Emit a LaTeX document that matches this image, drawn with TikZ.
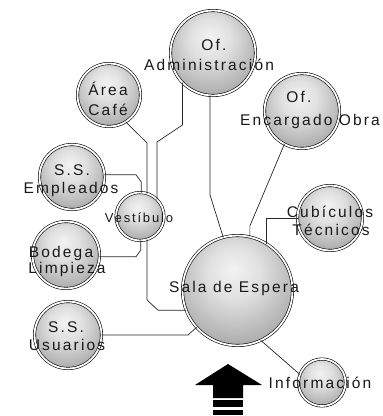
\documentclass[tikz,border=0pt]{standalone}
\usepackage{fontspec}
\setmainfont{Liberation Sans}[LetterSpace=14]
\pgfdeclareradialshading{sphere}{\pgfpoint{-2bp}{10bp}}{color(0bp)=(white!95!black); color(12bp)=(white!88!black); color(30bp)=(white!68!black); color(50bp)=(white!45!black); color(70bp)=(white!40!black)}
\begin{document}
\begin{tikzpicture}[x=1pt,y=-1pt,
  bub/.style={circle, draw=black, line width=0.6pt, double=white, double distance=1.8pt, shading=sphere, inner sep=0pt, outer sep=0pt},
  lbl/.style={font=\fontsize{15.5}{19}\selectfont, anchor=base, inner sep=0pt, text=black!90},
  slbl/.style={lbl, font=\fontsize{13}{16}\selectfont},
  wire/.style={line width=0.7pt, draw=black!85, line join=miter}]
\useasboundingbox (0,0) rectangle (383,416);
% bubbles
\node[bub, minimum size=85pt] (admin) at (213,53) {};
\node[bub, minimum size=63pt] (cafe) at (109,95) {};
\node[bub, minimum size=75pt] (obra) at (302,111) {};
\node[bub, minimum size=65pt] (empl) at (72,177) {};
\node[bub, minimum size=48pt] (vest) at (140,216.5) {};
\node[bub, minimum size=65pt] (cub) at (330,218) {};
\node[bub, minimum size=67pt] (bod) at (66,255) {};
\node[bub, minimum size=110pt] (sala) at (237.5,290.5) {};
\node[bub, minimum size=67pt] (usu) at (68,335) {};
\node[bub, minimum size=47pt] (info) at (322,382.5) {};
% connectors
\draw[wire] (admin.266) -- (admin.266 |- 0,195) -- (sala.105);
\draw[wire] (admin.224) -- (admin.224 |- 0,125) -- (vest.45 |- 0,142) -- (vest.45);
\draw[wire] (cafe.302) -- (vest.73 |- 0,143) -- (vest.73);
\draw[wire] (empl.4) -- (136,0 |- empl.4) -- (vest.87 |- 0,182) -- (vest.87);
\draw[wire] (vest.272) -- (vest.272 |- 0,250) -- (136,0 |- bod.357) -- (bod.357);
\draw[wire] (vest.287) -- (vest.287 |- 0,300) -- (158,0 |- sala.201) -- (sala.201);
\draw[wire] (obra.242) -- (sala.77 |- 0,226) -- (sala.77);
\draw[wire] (cub.180) -- (sala.58 |- cub.180) -- (sala.58);
\draw[wire] (usu.0) -- (188,0 |- usu.0) -- (sala.222);
\draw[wire] (sala.295) -- (info.160);
% entrance arrow
\fill[black] (228,364) -- (262,385) -- (243,385) -- (243,398) -- (213,398) -- (213,385) -- (195,385) -- cycle;
\fill[black] (213,400) rectangle (243,406.5);
\fill[black] (213,409.5) rectangle (243,415);
% labels
\node[lbl] (adminA) at (214,50) {Of.};
\node[lbl] (adminB) at (209,70) {Administración};
\node[lbl] (cafeA) at (108,95) {Área};
\node[lbl] (cafeB) at (108,115) {Café};
\node[lbl] (obraA) at (299,102) {Of.};
\node[lbl] (obraB) at (310,125) {Encargado Obra};
\node[lbl] (emplA) at (72,175) {S.S.};
\node[lbl] (emplB) at (71,193) {Empleados};
\node[slbl] (vestA) at (139,222) {Vestíbulo};
\node[lbl] (cubA) at (330,217) {Cubículos};
\node[lbl] (cubB) at (331,235) {Técnicos};
\node[lbl] (bodA) at (61,257) {Bodega};
\node[lbl] (bodB) at (67,273) {Limpieza};
\node[lbl] (salaA) at (234,292) {Sala de Espera};
\node[lbl] (usuA) at (66,332) {S.S.};
\node[lbl] (usuB) at (67,350) {Usuarios};
\node[lbl] (infoA) at (320,388) {Información};
\end{tikzpicture}
\end{document}
